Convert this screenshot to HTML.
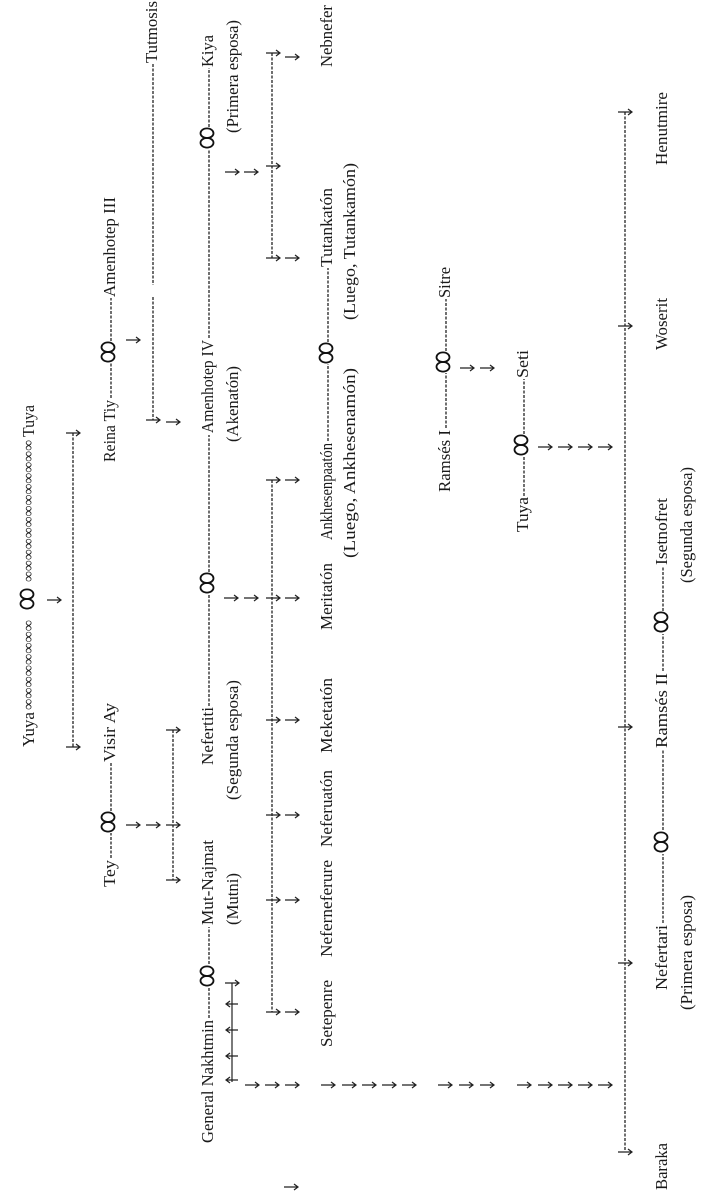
<!DOCTYPE html>
<html><head><meta charset="utf-8"><style>
html,body{margin:0;padding:0;background:#fff;}
svg{display:block}
text{font-family:"Liberation Serif",serif;font-size:17px;fill:#1a1a1a;}
.s{font-size:15px}
.d{stroke:#222;stroke-width:1.3;stroke-dasharray:3 1.5;fill:none}
.a{stroke:#222;stroke-width:1.2;fill:none}
.i{stroke:#111;stroke-width:1.8;fill:none}
</style></head><body>
<svg width="707" height="1200" viewBox="0 0 707 1200" xmlns="http://www.w3.org/2000/svg">
<defs>
<g id="ar"><path class="a" d="M0 0H14M10 -3L14 0L10 3"/></g>
<g id="inf"><ellipse class="i" cx="0" cy="-4.8" rx="6.5" ry="4.8"/><ellipse class="i" cx="0" cy="4.8" rx="6.5" ry="4.8"/></g>
</defs>

<!-- Row 1 -->
<text x="34" y="747" transform="rotate(-90 34 747)" textLength="35" lengthAdjust="spacingAndGlyphs">Yuya</text>
<text class="s" x="33" y="710" transform="rotate(-90 33 710)" textLength="90" lengthAdjust="spacingAndGlyphs">∞∞∞∞∞∞∞∞</text>
<use href="#inf" x="27" y="599"/>
<text class="s" x="33" y="582" transform="rotate(-90 33 582)" textLength="142" lengthAdjust="spacingAndGlyphs">∞∞∞∞∞∞∞∞∞∞∞∞∞</text>
<text x="34" y="437" transform="rotate(-90 34 437)" textLength="32" lengthAdjust="spacingAndGlyphs">Tuya</text>
<use href="#ar" x="47" y="600"/>
<line class="d" x1="73" y1="433" x2="73" y2="747"/>
<use href="#ar" x="66" y="433"/><use href="#ar" x="66" y="747"/>

<!-- Row 2 -->
<text x="115" y="887" transform="rotate(-90 115 887)" textLength="27" lengthAdjust="spacingAndGlyphs">Tey</text>
<line class="d" x1="111" y1="858" x2="111" y2="833"/>
<use href="#inf" x="108" y="822"/>
<line class="d" x1="111" y1="811" x2="111" y2="763"/>
<text x="115" y="762" transform="rotate(-90 115 762)" textLength="59" lengthAdjust="spacingAndGlyphs">Visir Ay</text>
<text x="115" y="462" transform="rotate(-90 115 462)" textLength="62" lengthAdjust="spacingAndGlyphs">Reina Tiy</text>
<line class="d" x1="111" y1="398" x2="111" y2="363"/>
<use href="#inf" x="108" y="352"/>
<line class="d" x1="111" y1="341" x2="111" y2="298"/>
<text x="115" y="297" transform="rotate(-90 115 297)" textLength="100" lengthAdjust="spacingAndGlyphs">Amenhotep III</text>
<use href="#ar" x="126" y="340"/>
<text x="157" y="63" transform="rotate(-90 157 63)" textLength="62" lengthAdjust="spacingAndGlyphs">Tutmosis</text>
<line class="d" x1="153" y1="64" x2="153" y2="285"/>
<line class="d" x1="153" y1="297" x2="153" y2="420"/>
<use href="#ar" x="146" y="420"/><use href="#ar" x="166" y="422"/>
<use href="#ar" x="126" y="825"/><use href="#ar" x="146" y="825"/>
<line class="d" x1="173" y1="730" x2="173" y2="880"/>
<use href="#ar" x="166" y="730"/><use href="#ar" x="166" y="825"/><use href="#ar" x="166" y="880"/>

<!-- Row 3 -->
<text x="213" y="1143" transform="rotate(-90 213 1143)" textLength="123" lengthAdjust="spacingAndGlyphs">General Nakhtmin</text>
<line class="d" x1="209" y1="1018" x2="209" y2="988"/>
<use href="#inf" x="207" y="976"/>
<line class="d" x1="209" y1="964" x2="209" y2="927"/>
<text x="213" y="925" transform="rotate(-90 213 925)" textLength="85" lengthAdjust="spacingAndGlyphs">Mut-Najmat</text>
<text x="213" y="765" transform="rotate(-90 213 765)" textLength="58" lengthAdjust="spacingAndGlyphs">Nefertiti</text>
<line class="d" x1="209" y1="706" x2="209" y2="595"/>
<use href="#inf" x="207" y="583"/>
<line class="d" x1="209" y1="572" x2="209" y2="435"/>
<text x="213" y="433" transform="rotate(-90 213 433)" textLength="93" lengthAdjust="spacingAndGlyphs">Amenhotep IV</text>
<line class="d" x1="209" y1="338" x2="209" y2="150"/>
<use href="#inf" x="207" y="138"/>
<line class="d" x1="209" y1="127" x2="209" y2="68"/>
<text x="213" y="67" transform="rotate(-90 213 67)" textLength="32" lengthAdjust="spacingAndGlyphs">Kiya</text>
<text x="238" y="925" transform="rotate(-90 238 925)" textLength="52" lengthAdjust="spacingAndGlyphs">(Mutni)</text>
<text x="238" y="800" transform="rotate(-90 238 800)" textLength="120" lengthAdjust="spacingAndGlyphs">(Segunda esposa)</text>
<text x="238" y="442" transform="rotate(-90 238 442)" textLength="76" lengthAdjust="spacingAndGlyphs">(Akenatón)</text>
<text x="238" y="133" transform="rotate(-90 238 133)" textLength="113" lengthAdjust="spacingAndGlyphs">(Primera esposa)</text>
<!-- arrows under Nakhtmin -->
<line class="a" x1="232" y1="983" x2="232" y2="1082"/>
<use href="#ar" x="225" y="983"/>
<path class="a" d="M238 1004H226M230 1001L226 1004L230 1007M238 1030H226M230 1027L226 1030L230 1033M238 1056H226M230 1053L226 1056L230 1059M238 1080H226M230 1077L226 1080L230 1083"/>
<!-- Kiya children -->
<use href="#ar" x="225" y="172"/><use href="#ar" x="244" y="172"/>
<line class="d" x1="272" y1="53" x2="272" y2="258"/>
<use href="#ar" x="266" y="53"/><use href="#ar" x="266" y="166"/><use href="#ar" x="266" y="258"/>
<use href="#ar" x="285" y="57"/><use href="#ar" x="285" y="258"/>
<!-- Nefertiti children -->
<use href="#ar" x="224" y="598"/><use href="#ar" x="244" y="598"/>
<line class="d" x1="272" y1="480" x2="272" y2="1012"/>
<use href="#ar" x="266" y="480"/><use href="#ar" x="266" y="598"/><use href="#ar" x="266" y="720"/><use href="#ar" x="266" y="815"/><use href="#ar" x="266" y="900"/><use href="#ar" x="266" y="1012"/>
<use href="#ar" x="285" y="480"/><use href="#ar" x="285" y="598"/><use href="#ar" x="285" y="720"/><use href="#ar" x="285" y="815"/><use href="#ar" x="285" y="900"/><use href="#ar" x="285" y="1012"/>

<!-- Row 4 -->
<text x="332" y="67" transform="rotate(-90 332 67)" textLength="62" lengthAdjust="spacingAndGlyphs">Nebnefer</text>
<text x="332" y="267" transform="rotate(-90 332 267)" textLength="79" lengthAdjust="spacingAndGlyphs">Tutankatón</text>
<line class="d" x1="328" y1="342" x2="328" y2="268"/>
<use href="#inf" x="326" y="353"/>
<line class="d" x1="328" y1="441" x2="328" y2="364"/>
<text x="332" y="540" transform="rotate(-90 332 540)" textLength="97" lengthAdjust="spacingAndGlyphs">Ankhesenpaatón</text>
<text x="332" y="630" transform="rotate(-90 332 630)" textLength="67" lengthAdjust="spacingAndGlyphs">Meritatón</text>
<text x="332" y="753" transform="rotate(-90 332 753)" textLength="75" lengthAdjust="spacingAndGlyphs">Meketatón</text>
<text x="332" y="847" transform="rotate(-90 332 847)" textLength="77" lengthAdjust="spacingAndGlyphs">Neferuatón</text>
<text x="332" y="957" transform="rotate(-90 332 957)" textLength="97" lengthAdjust="spacingAndGlyphs">Neferneferure</text>
<text x="332" y="1047" transform="rotate(-90 332 1047)" textLength="67" lengthAdjust="spacingAndGlyphs">Setepenre</text>
<text x="355" y="320" transform="rotate(-90 355 320)" textLength="157" lengthAdjust="spacingAndGlyphs">(Luego, Tutankamón)</text>
<text x="355" y="558" transform="rotate(-90 355 558)" textLength="190" lengthAdjust="spacingAndGlyphs">(Luego, Ankhesenamón)</text>

<!-- long arrow row -->
<use href="#ar" x="245" y="1085"/><use href="#ar" x="265" y="1085"/><use href="#ar" x="285" y="1085"/>
<use href="#ar" x="321" y="1085"/><use href="#ar" x="342" y="1085"/><use href="#ar" x="362" y="1085"/><use href="#ar" x="382" y="1085"/><use href="#ar" x="402" y="1085"/>
<use href="#ar" x="438" y="1085"/><use href="#ar" x="459" y="1085"/><use href="#ar" x="480" y="1085"/>
<use href="#ar" x="517" y="1085"/><use href="#ar" x="538" y="1085"/><use href="#ar" x="558" y="1085"/><use href="#ar" x="578" y="1085"/><use href="#ar" x="598" y="1085"/>
<use href="#ar" x="284" y="1187"/>

<!-- Row 5 -->
<text x="450" y="492" transform="rotate(-90 450 492)" textLength="62" lengthAdjust="spacingAndGlyphs">Ramsés I</text>
<line class="d" x1="446" y1="428" x2="446" y2="373"/>
<use href="#inf" x="443" y="362"/>
<line class="d" x1="446" y1="351" x2="446" y2="299"/>
<text x="450" y="298" transform="rotate(-90 450 298)" textLength="31" lengthAdjust="spacingAndGlyphs">Sitre</text>
<use href="#ar" x="460" y="368"/><use href="#ar" x="480" y="368"/>

<!-- Row 6 -->
<text x="528" y="532" transform="rotate(-90 528 532)" textLength="35" lengthAdjust="spacingAndGlyphs">Tuya</text>
<line class="d" x1="524" y1="496" x2="524" y2="456"/>
<use href="#inf" x="521" y="445"/>
<line class="d" x1="524" y1="434" x2="524" y2="379"/>
<text x="528" y="378" transform="rotate(-90 528 378)" textLength="28" lengthAdjust="spacingAndGlyphs">Seti</text>
<use href="#ar" x="538" y="447"/><use href="#ar" x="558" y="447"/><use href="#ar" x="578" y="447"/><use href="#ar" x="598" y="447"/>
<line class="d" x1="625" y1="112" x2="625" y2="1152"/>
<use href="#ar" x="618" y="112"/><use href="#ar" x="618" y="326"/><use href="#ar" x="618" y="727"/><use href="#ar" x="618" y="963"/><use href="#ar" x="618" y="1152"/>

<!-- Row 7 -->
<text x="667" y="165" transform="rotate(-90 667 165)" textLength="73" lengthAdjust="spacingAndGlyphs">Henutmire</text>
<text x="667" y="350" transform="rotate(-90 667 350)" textLength="52" lengthAdjust="spacingAndGlyphs">Woserit</text>
<text x="667" y="565" transform="rotate(-90 667 565)" textLength="67" lengthAdjust="spacingAndGlyphs">Isetnofret</text>
<line class="d" x1="663" y1="611" x2="663" y2="567"/>
<use href="#inf" x="661" y="622"/>
<line class="d" x1="663" y1="671" x2="663" y2="634"/>
<text x="667" y="748" transform="rotate(-90 667 748)" textLength="75" lengthAdjust="spacingAndGlyphs">Ramsés II</text>
<line class="d" x1="663" y1="830" x2="663" y2="750"/>
<use href="#inf" x="661" y="842"/>
<line class="d" x1="663" y1="923" x2="663" y2="854"/>
<text x="667" y="990" transform="rotate(-90 667 990)" textLength="65" lengthAdjust="spacingAndGlyphs">Nefertari</text>
<text x="667" y="1190" transform="rotate(-90 667 1190)" textLength="47" lengthAdjust="spacingAndGlyphs">Baraka</text>
<text x="692" y="1010" transform="rotate(-90 692 1010)" textLength="115" lengthAdjust="spacingAndGlyphs">(Primera esposa)</text>
<text x="692" y="583" transform="rotate(-90 692 583)" textLength="116" lengthAdjust="spacingAndGlyphs">(Segunda esposa)</text>
</svg>
</body></html>
